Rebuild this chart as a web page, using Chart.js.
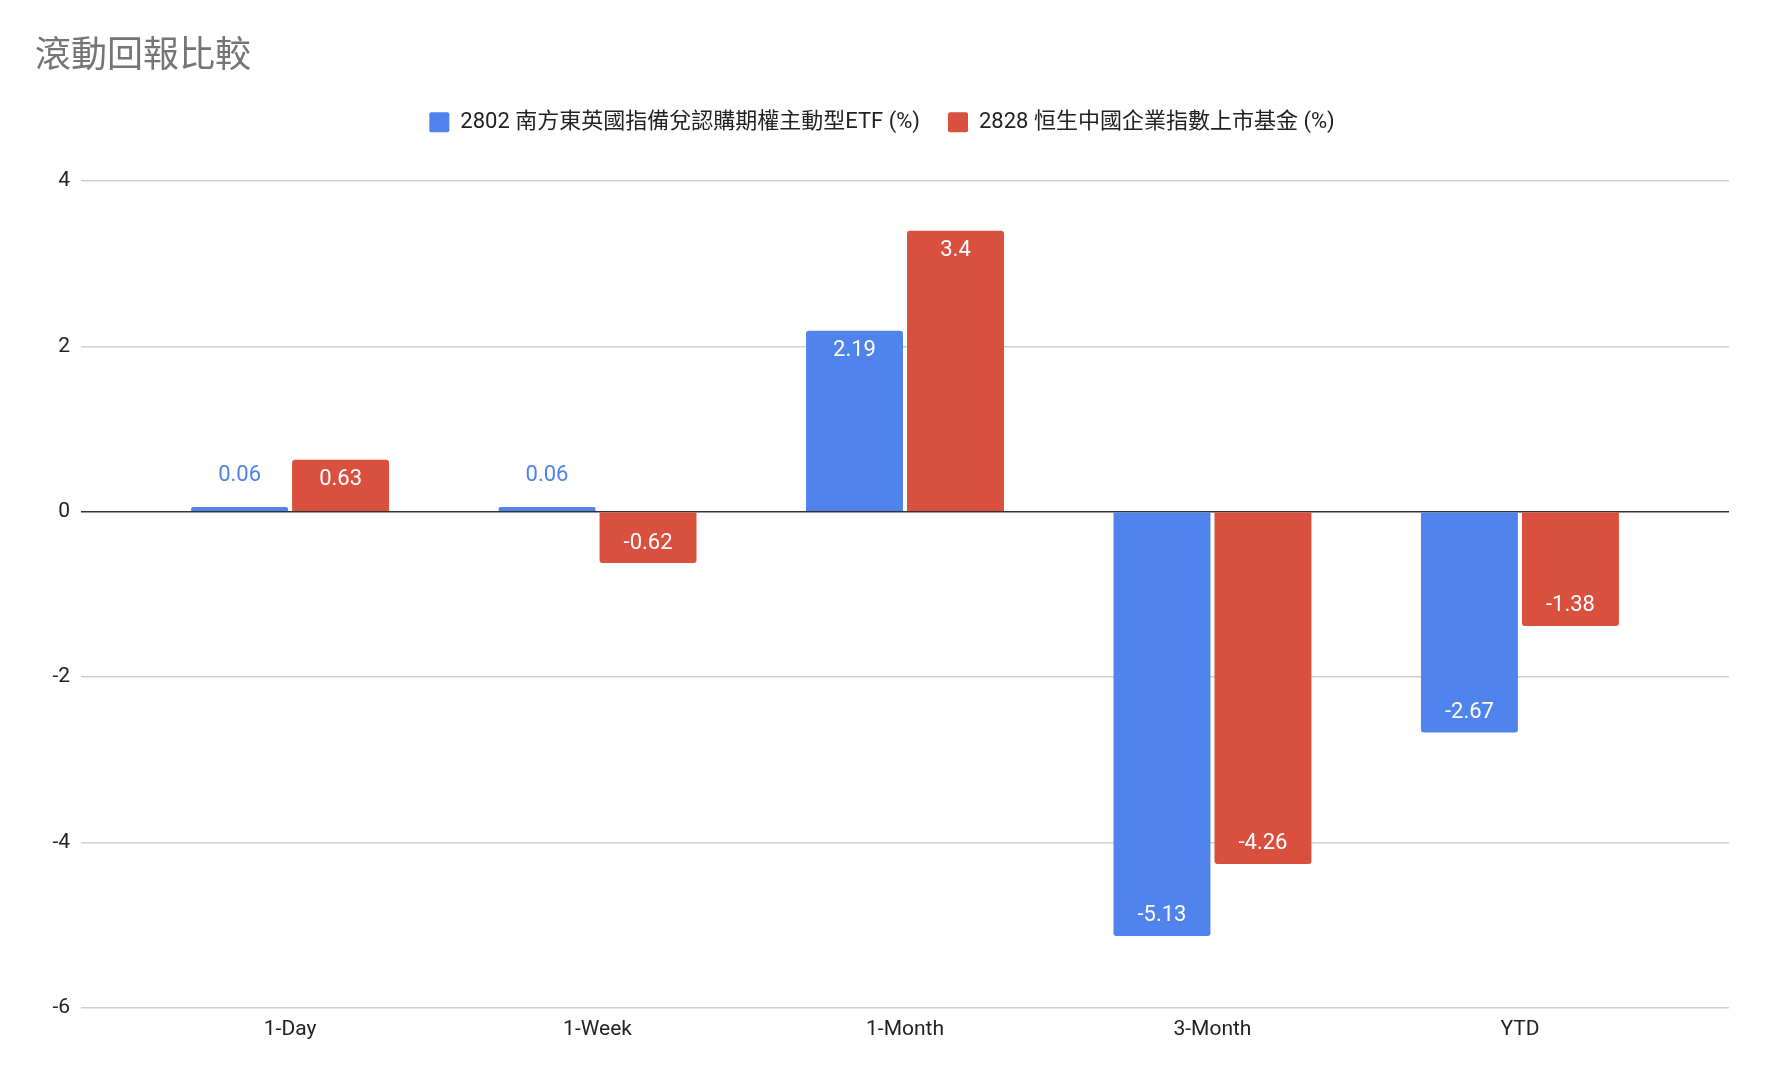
<!DOCTYPE html>
<html>
<head>
<meta charset="utf-8">
<script src="https://cdn.jsdelivr.net/npm/chart.js@4.4.1/dist/chart.umd.min.js"></script>
<style>
  body { margin: 0; background: #fff; }
  #wrap { width: 1768px; height: 1080px; }
</style>
</head>
<body>
<div id="wrap"><canvas id="returnsChart"></canvas></div>
<script>
const categories = ["1-Day", "1-Week", "1-Month", "3-Month", "YTD"];
const etf2802 = [0.06, 0.06, 2.19, -5.13, -2.67];
const etf2828 = [0.63, -0.62, 3.4, -4.26, -1.38];
const seriesNames = ["2802 南方東英國指備兌認購期權主動型ETF (%)", "2828 恒生中國企業指數上市基金 (%)"];
const yTicks = [-6, -4, -2, 0, 2, 4];

const BLUE = "#5083ec";
const RED = "#d9503f";
const FONT = "Roboto, 'Noto Sans CJK TC', sans-serif";

function toPoints(values) {
    return values.map((v, i) => ({ x: i, y: v }));
}

// value labels: white inside the bar end, or coloured just outside for tiny bars
const barLabels = {
    id: "barLabels",
    afterDatasetsDraw(chart) {
        const ctx = chart.ctx;
        ctx.save();
        ctx.font = "22px " + FONT;
        ctx.textAlign = "center";
        ctx.textBaseline = "middle";
        chart.data.datasets.forEach((ds, di) => {
            const meta = chart.getDatasetMeta(di);
            meta.data.forEach((bar, i) => {
                const v = ds.data[i].y;
                const h = Math.abs(bar.y - bar.base);
                const dir = v >= 0 ? 1 : -1;
                let y;
                if (h > 40) {
                    ctx.fillStyle = "#ffffff";
                    y = bar.y + dir * 20;
                } else {
                    ctx.fillStyle = ds.backgroundColor;
                    y = bar.y - dir * 33 + 2;
                }
                ctx.fillText(String(v), bar.x, y);
            });
        });
        ctx.restore();
    }
};

// extra space under the legend
const legendGap = {
    id: "legendGap",
    beforeInit(chart) {
        const fit = chart.legend.fit;
        chart.legend.fit = function () {
            fit.bind(this)();
            this.height += 38;
        };
    }
};

const chart = new Chart(document.getElementById("returnsChart"), {
    type: "bar",
    data: {
        datasets: [
            {
                label: seriesNames[0],
                data: toPoints(etf2802),
                backgroundColor: BLUE,
                borderRadius: 3,
                borderSkipped: "start",
                categoryPercentage: 0.657,
                barPercentage: 0.96
            },
            {
                label: seriesNames[1],
                data: toPoints(etf2828),
                backgroundColor: RED,
                borderRadius: 3,
                borderSkipped: "start",
                categoryPercentage: 0.657,
                barPercentage: 0.96
            }
        ]
    },
    options: {
        responsive: true,
        maintainAspectRatio: false,
        animation: false,
        layout: { padding: { left: 35, right: 39, top: 12, bottom: 29 } },
        plugins: {
            title: {
                display: true,
                text: "滾動回報比較",
                align: "start",
                color: "#757575",
                font: { family: "'Noto Sans CJK TC', sans-serif", size: 36, weight: "normal" },
                padding: { top: 20, bottom: 8 }
            },
            legend: {
                display: true,
                labels: {
                    color: "#222",
                    font: { family: FONT, size: 22 },
                    boxWidth: 20,
                    boxHeight: 20,
                    padding: 28,
                    useBorderRadius: true,
                    borderRadius: 2
                }
            },
            tooltip: { enabled: false }
        },
        scales: {
            x: {
                type: "linear",
                offset: false,
                min: -0.68,
                max: 4.68,
                afterBuildTicks(scale) {
                    scale.ticks = categories.map((c, i) => ({ value: i }));
                },
                ticks: {
                    callback: (val) => categories[val] ?? "",
                    color: "#222",
                    font: { family: FONT, size: 21 },
                    padding: 9,
                    maxRotation: 0,
                    autoSkip: false
                },
                grid: { display: false, drawTicks: false, offset: false },
                border: { display: false }
            },
            y: {
                min: -6,
                max: 4,
                afterBuildTicks(scale) {
                    scale.ticks = yTicks.map(v => ({ value: v }));
                },
                afterFit(scale) {
                    scale.width = 46;
                },
                ticks: {
                    color: "#222",
                    font: { family: FONT, size: 21 },
                    padding: 11
                },
                grid: {
                    drawTicks: false,
                    color: (c) => c.tick && c.tick.value === 0 ? "#333333" : "#d0d0d0",
                    lineWidth: 1.5
                },
                border: { display: false }
            }
        }
    },
    plugins: [barLabels, legendGap]
});
</script>
</body>
</html>
